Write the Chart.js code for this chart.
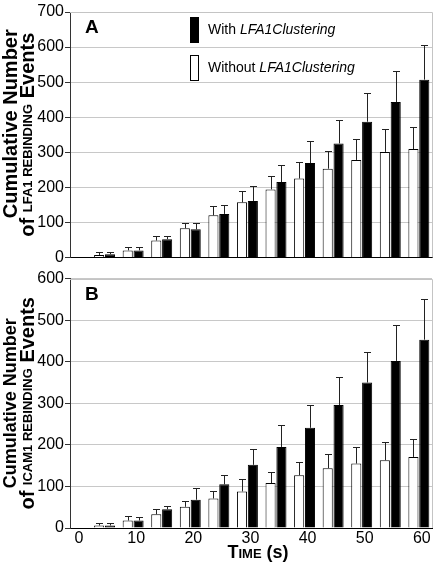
<!DOCTYPE html>
<html>
<head>
<meta charset="utf-8">
<script src="https://cdn.jsdelivr.net/npm/chart.js@4.4.1/dist/chart.umd.min.js"></script>
<style>
  html, body { margin: 0; padding: 0; background: #fff; }
  #wrap { position: relative; width: 440px; height: 569px; }
  .panel { position: absolute; left: 0; width: 440px; }
  #panelA { top: 0; height: 268px; }
  #panelB { top: 268px; height: 301px; }
</style>
</head>
<body>
<div id="wrap">
  <div class="panel" id="panelA"><canvas id="chartA"></canvas></div>
  <div class="panel" id="panelB"><canvas id="chartB"></canvas></div>
</div>
<script>
const times = [5, 10, 15, 20, 25, 30, 35, 40, 45, 50, 55, 60];

// panel A: LFA1 rebinding
const lfaWithout = [7, 20, 48, 83, 120, 157, 194, 225, 253, 278, 301, 309];
const lfaWithoutErr = [7, 11, 14, 16, 26, 33, 39, 47, 51, 61, 65, 64];
const lfaWith = [9, 20, 52, 80, 124, 161, 215, 269, 325, 387, 443, 507];
const lfaWithErr = [7, 10, 10, 17, 25, 44, 49, 62, 67, 82, 90, 98];

// panel B: ICAM1 rebinding
const icamWithout = [6, 18, 33, 51, 71, 88, 108, 127, 144, 155, 163, 171];
const icamWithoutErr = [5, 10, 13, 13, 19, 29, 26, 32, 34, 39, 43, 42];
const icamWith = [6, 18, 45, 68, 105, 152, 195, 241, 296, 350, 402, 453];
const icamWithErr = [7, 8, 7, 28, 23, 38, 52, 56, 67, 74, 86, 97];

const xTicks = [0, 10, 20, 30, 40, 50, 60];
const yTicksA = [0, 100, 200, 300, 400, 500, 600, 700];
const yTicksB = [0, 100, 200, 300, 400, 500, 600];

const FONT = "'Liberation Sans', Arial, sans-serif";

function pts(vals) {
  return times.map((t, i) => ({ x: t, y: vals[i] }));
}

// upward error bars with a cap
const errorBars = {
  id: 'errorBars',
  afterDatasetsDraw(chart) {
    const ctx = chart.ctx;
    const y = chart.scales.y;
    ctx.save();
    ctx.strokeStyle = '#222';
    ctx.lineWidth = 1;
    chart.data.datasets.forEach((ds, di) => {
      const meta = chart.getDatasetMeta(di);
      meta.data.forEach((bar, i) => {
        const top = y.getPixelForValue(ds.data[i].y + ds.errors[i]);
        const x = Math.round(bar.x) + 0.5;
        ctx.beginPath();
        ctx.moveTo(x, bar.y);
        ctx.lineTo(x, Math.round(top) + 0.5);
        ctx.moveTo(x - 3.5, Math.round(top) + 0.5);
        ctx.lineTo(x + 3.5, Math.round(top) + 0.5);
        ctx.stroke();
      });
    });
    ctx.restore();
  }
};

// light frame on top and right of plot area
const frame = {
  id: 'frame',
  beforeDatasetsDraw(chart) {
    const a = chart.chartArea;
    const ctx = chart.ctx;
    ctx.save();
    ctx.strokeStyle = '#c4c4c4';
    ctx.lineWidth = 1;
    ctx.beginPath();
    ctx.moveTo(a.left, Math.round(a.top) + 0.5);
    ctx.lineTo(Math.round(a.right) + 0.5, Math.round(a.top) + 0.5);
    ctx.lineTo(Math.round(a.right) + 0.5, a.bottom);
    ctx.stroke();
    ctx.restore();
  }
};

// draw a run of text pieces with different fonts
function drawRuns(ctx, runs, x, y, align) {
  let total = 0;
  runs.forEach(r => { ctx.font = r.font; r.w = ctx.measureText(r.text).width; total += r.w; });
  let cx = align === 'center' ? x - total / 2 : x;
  runs.forEach(r => {
    ctx.font = r.font;
    ctx.textAlign = 'left';
    ctx.fillText(r.text, cx, y);
    cx += r.w;
  });
}

function decorations(opts) {
  return {
    id: 'decorations',
    afterDraw(chart) {
      const ctx = chart.ctx;
      const a = chart.chartArea;
      const mid = (a.top + a.bottom) / 2;
      ctx.save();
      ctx.fillStyle = '#000';
      ctx.textBaseline = 'middle';

      // y axis title, two lines, rotated
      ctx.save();
      ctx.translate(11, mid - opts.titleShift);
      ctx.rotate(-Math.PI / 2);
      drawRuns(ctx, [{ text: 'Cumulative Number', font: 'bold ' + opts.titleSize + 'px ' + FONT }], 0, 0, 'center');
      ctx.restore();
      ctx.save();
      ctx.translate(28, mid);
      ctx.rotate(-Math.PI / 2);
      drawRuns(ctx, [
        { text: 'of ', font: 'bold 20px ' + FONT },
        { text: opts.molecule + ' REBINDING', font: 'bold 13px ' + FONT },
        { text: ' Events', font: 'bold 20px ' + FONT }
      ], 0, 0, 'center');
      ctx.restore();

      // panel letter
      ctx.textBaseline = 'alphabetic';
      ctx.font = 'bold 19px ' + FONT;
      ctx.fillText(opts.letter, 85, a.top + 21);

      if (opts.legend) {
        const items = [
          { fill: '#000', label: 'With ', y: 17 },
          { fill: '#fff', label: 'Without ', y: 55 }
        ];
        items.forEach(it => {
          ctx.fillStyle = it.fill;
          ctx.fillRect(190, it.y, 9, 26);
          ctx.strokeStyle = '#000';
          ctx.lineWidth = 1;
          ctx.strokeRect(190.5, it.y + 0.5, 8, 25);
          ctx.fillStyle = '#000';
          ctx.textBaseline = 'middle';
          drawRuns(ctx, [
            { text: it.label, font: '14px ' + FONT },
            { text: 'LFA1Clustering', font: 'italic 14px ' + FONT }
          ], 208, it.y + 13, 'left');
        });
      }

      if (opts.xTitle) {
        ctx.textBaseline = 'alphabetic';
        drawRuns(ctx, [
          { text: 'T', font: 'bold 18px ' + FONT },
          { text: 'IME', font: 'bold 13px ' + FONT },
          { text: ' (s)', font: 'bold 18px ' + FONT }
        ], 258, chart.height - 11, 'center');
      }
      ctx.restore();
    }
  };
}

function makeChart(id, withoutVals, withoutErr, withVals, withErr, yTicks, cfg) {
  const ctx = document.getElementById(id).getContext('2d');
  return new Chart(ctx, {
    type: 'bar',
    data: {
      datasets: [
        {
          label: 'Without',
          data: pts(withoutVals),
          errors: withoutErr,
          backgroundColor: '#fff',
          borderColor: '#000',
          borderWidth: 1,
          categoryPercentage: 0.76,
          barPercentage: 0.93
        },
        {
          label: 'With',
          data: pts(withVals),
          errors: withErr,
          backgroundColor: '#000',
          borderColor: '#000',
          borderWidth: 1,
          categoryPercentage: 0.76,
          barPercentage: 0.93
        }
      ]
    },
    options: {
      responsive: true,
      maintainAspectRatio: false,
      animation: false,
      layout: { padding: { left: 0, right: 8, top: cfg.top, bottom: 0 } },
      plugins: { legend: { display: false }, tooltip: { enabled: false } },
      scales: {
        x: {
          type: 'linear',
          offset: false,
          min: -1.05,
          max: 62.3,
          grid: { display: false, drawTicks: false, offset: false },
          border: { display: true, color: '#000', width: 1 },
          afterBuildTicks: s => { s.ticks = xTicks.map(v => ({ value: v })); },
          ticks: {
            display: cfg.xLabels,
            includeBounds: false,
            labelOffset: 3,
            padding: 1,
            color: '#000',
            font: { family: FONT, size: 16 }
          },
          afterFit: s => { s.height = cfg.xHeight; }
        },
        y: {
          min: 0,
          max: yTicks[yTicks.length - 1],
          grid: { color: '#c8c8c8', tickColor: '#333', tickLength: 5 },
          border: { display: true, color: '#333', width: 1 },
          afterBuildTicks: s => { s.ticks = yTicks.map(v => ({ value: v })); },
          ticks: {
            padding: 1,
            color: '#000',
            font: { family: FONT, size: 16 }
          },
          afterFit: s => { s.width = 70; }
        }
      }
    },
    plugins: [frame, errorBars, decorations(cfg)]
  });
}

makeChart('chartA', lfaWithout, lfaWithoutErr, lfaWith, lfaWithErr, yTicksA, {
  top: 12, xHeight: 5, xLabels: false, letter: 'A', molecule: 'LFA1',
  legend: true, xTitle: false, titleSize: 20, titleShift: 11
});
makeChart('chartB', icamWithout, icamWithoutErr, icamWith, icamWithErr, yTicksB, {
  top: 9, xHeight: 41, xLabels: true, letter: 'B', molecule: 'ICAM1',
  legend: false, xTitle: true, titleSize: 18, titleShift: 0
});
</script>
</body>
</html>
